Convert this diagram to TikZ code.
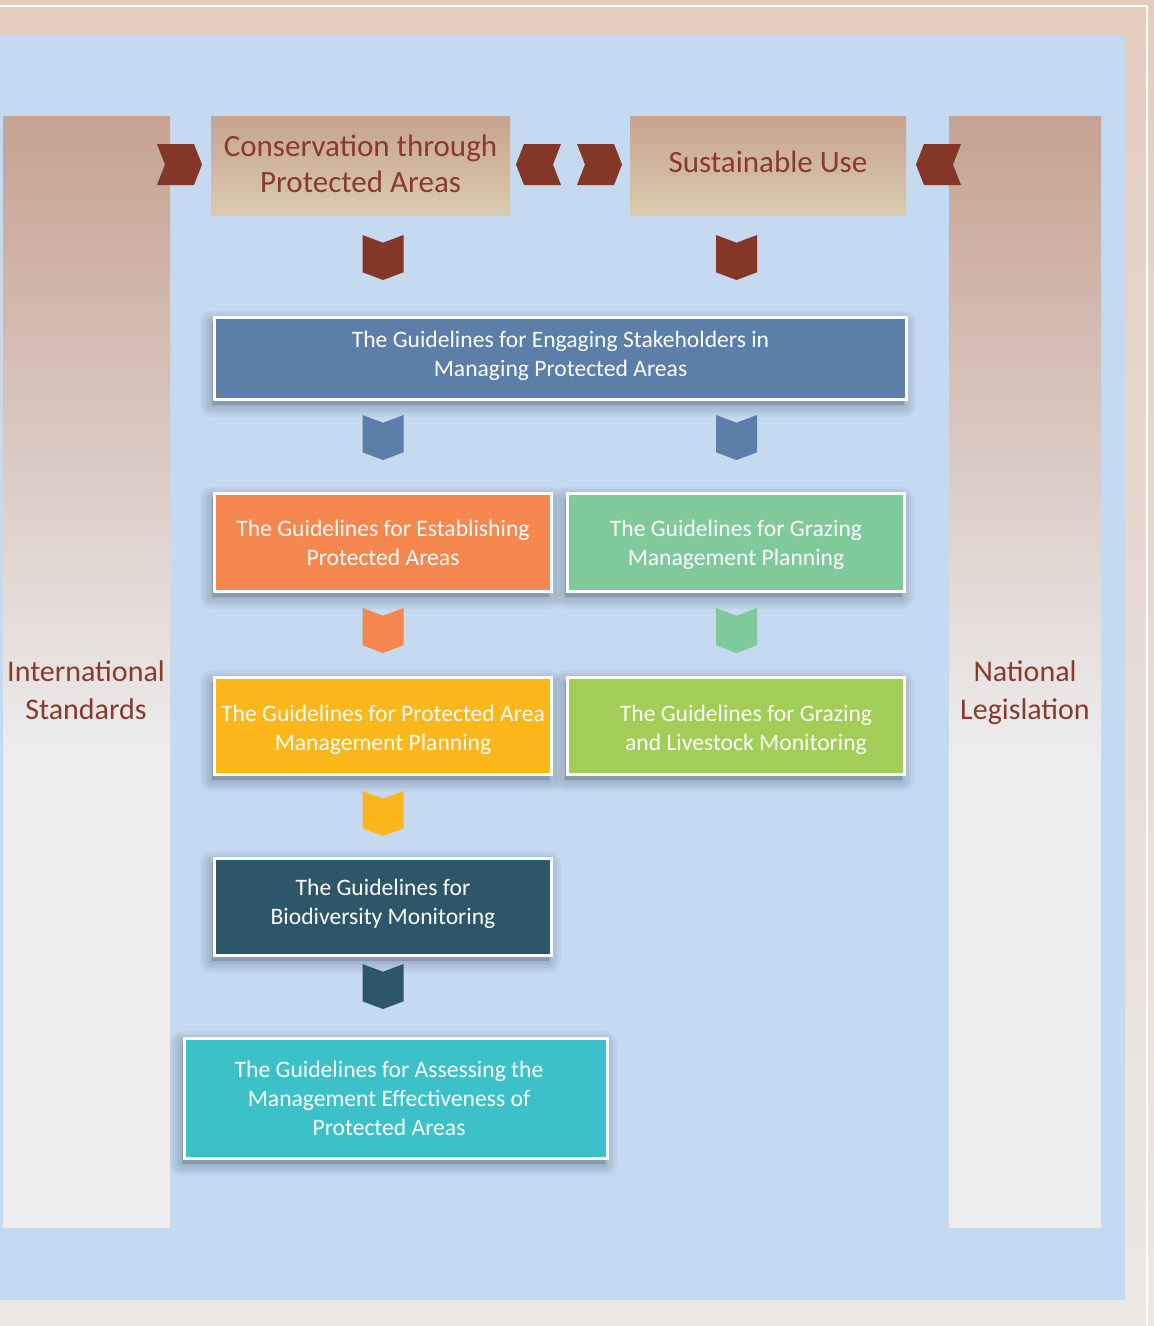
\documentclass[tikz,border=0pt]{standalone}
\usepackage{fontspec}
\setmainfont{Carlito}
\definecolor{framet}{HTML}{E3CDBF}
\definecolor{frameb}{HTML}{ECE8E6}
\definecolor{skyb}{HTML}{C5DAF1}
\definecolor{colt}{HTML}{C6A291}
\definecolor{colb}{HTML}{EDEDEF}
\definecolor{topt}{HTML}{C7A390}
\definecolor{topb}{HTML}{D9CBAE}
\definecolor{brownc}{HTML}{843627}
\definecolor{brownt}{HTML}{8B3A2A}
\definecolor{cblue}{HTML}{5B7FA8}
\definecolor{corange}{HTML}{F5874F}
\definecolor{cgreen}{HTML}{80C99A}
\definecolor{cyellow}{HTML}{FDB71A}
\definecolor{clime}{HTML}{A2CD56}
\definecolor{cdark}{HTML}{2D5768}
\definecolor{ccyan}{HTML}{3CC1C8}
\definecolor{shadc}{HTML}{3A4A60}
\tikzset{
  shlayer/.style={preaction={draw=shadc, line width=#1, fill=shadc, draw opacity=0.055, fill opacity=0.055,
    line join=round, transform canvas={xshift=-3pt, yshift=-5pt}}},
  gbox/.style={rectangle, draw=white, line width=2.6pt, inner sep=0pt,
    shlayer=24pt, shlayer=19pt, shlayer=14pt, shlayer=9pt, shlayer=4pt},
  gtext/.style={inner sep=0pt, text=white, align=center, font=\fontsize{23.6}{29}\selectfont},
  topbox/.style={rectangle, inner sep=0pt, top color=topt, bottom color=topb},
  toptext/.style={inner sep=0pt, text=brownt, align=center, font=\fontsize{31}{36}\selectfont},
  sidelabel/.style={inner sep=0pt, text=brownt, align=center, font=\fontsize{30}{38}\selectfont},
  dchev/.pic={\fill (-20.5,0) -- (0,7.7) -- (20.5,0) -- (20.5,37.3) -- (0,45) -- (-20.5,37.3) -- cycle;},
  rchev/.pic={\fill (0,0) -- (37,0) -- (45,20.5) -- (37,41) -- (0,41) -- (8,20.5) -- cycle;},
  lchev/.pic={\fill (0,0) -- (-37,0) -- (-45,20.5) -- (-37,41) -- (0,41) -- (-8,20.5) -- cycle;}
}
\begin{document}
\begin{tikzpicture}[x=1pt,y=-1pt]
\useasboundingbox (0,0) rectangle (1154,1326);
% backgrounds
\shade[top color=framet, bottom color=frameb] (0,0) rectangle (1154,1326);
\draw[white, line width=2pt] (-5,6) -- (1147,6) -- (1147,1330);
\fill[skyb] (-2,36) rectangle (1125,1300);
% side columns
\shade[top color=colt, bottom color=colb] (3,116) rectangle (170,760);
\fill[colb] (3,759) rectangle (170,1228);
\shade[top color=colt, bottom color=colb] (949,116) rectangle (1101,760);
\fill[colb] (949,759) rectangle (1101,1228);
\node[sidelabel] (intl) at (86,690) {International\\Standards};
\node[sidelabel] (natl) at (1025,693) {National\\Legislation};
% top boxes
\node[topbox, minimum width=299pt, minimum height=99pt] (cons) at (360.5,165.5) {};
\node[toptext] (const) at (360.5,163.5) {Conservation through\\Protected Areas};
\node[topbox, minimum width=276pt, minimum height=99pt] (sust) at (768,165.5) {};
\node[toptext] (sustt) at (768,161.5) {Sustainable Use};
% horizontal chevrons
\fill[brownc] (157,144) pic {rchev};
\fill[brownc] (561,144) pic {lchev};
\fill[brownc] (577,144) pic {rchev};
\fill[brownc] (961,144) pic {lchev};
% guideline boxes
\node[gbox, fill=cblue, minimum width=692pt, minimum height=82pt] (stake) at (560.5,358.5) {};
\node[gtext] (staket) at (560.5,355.5) {The Guidelines for Engaging Stakeholders in\\Managing Protected Areas};
\node[gbox, fill=corange, minimum width=337pt, minimum height=98pt] (estab) at (383,542.5) {};
\node[gtext] (estabt) at (383,542.5) {The Guidelines for Establishing\\Protected Areas};
\node[gbox, fill=cgreen, minimum width=337pt, minimum height=98pt] (grazmp) at (736,542.5) {};
\node[gtext] (grazmpt) at (736,544.5) {The Guidelines for Grazing\\Management Planning};
\node[gbox, fill=cyellow, minimum width=337pt, minimum height=97.5pt] (pamp) at (383,726) {};
\node[gtext] (pampt) at (383,729.5) {The Guidelines for Protected Area\\Management Planning};
\node[gbox, fill=clime, minimum width=337pt, minimum height=97.5pt] (graze) at (736,726) {};
\node[gtext] (grazet) at (746,729.5) {The Guidelines for Grazing\\and Livestock Monitoring};
\node[gbox, fill=cdark, minimum width=337pt, minimum height=97.5pt] (bio) at (383,907) {};
\node[gtext] (biot) at (383,903.5) {The Guidelines for\\Biodiversity Monitoring};
\node[gbox, fill=ccyan, minimum width=423pt, minimum height=120.5pt] (mett) at (396,1098.5) {};
\node[gtext] (mettt) at (389,1098) {The Guidelines for Assessing the\\Management Effectiveness of\\Protected Areas};
% downward chevrons
\fill[brownc] (383,235) pic {dchev};
\fill[brownc] (736.5,235) pic {dchev};
\fill[cblue] (383,415) pic {dchev};
\fill[cblue] (736.5,415) pic {dchev};
\fill[corange] (383,608) pic {dchev};
\fill[cgreen] (736.5,608) pic {dchev};
\fill[cyellow] (383,791) pic {dchev};
\fill[cdark] (383,964) pic {dchev};
\end{tikzpicture}
\end{document}
